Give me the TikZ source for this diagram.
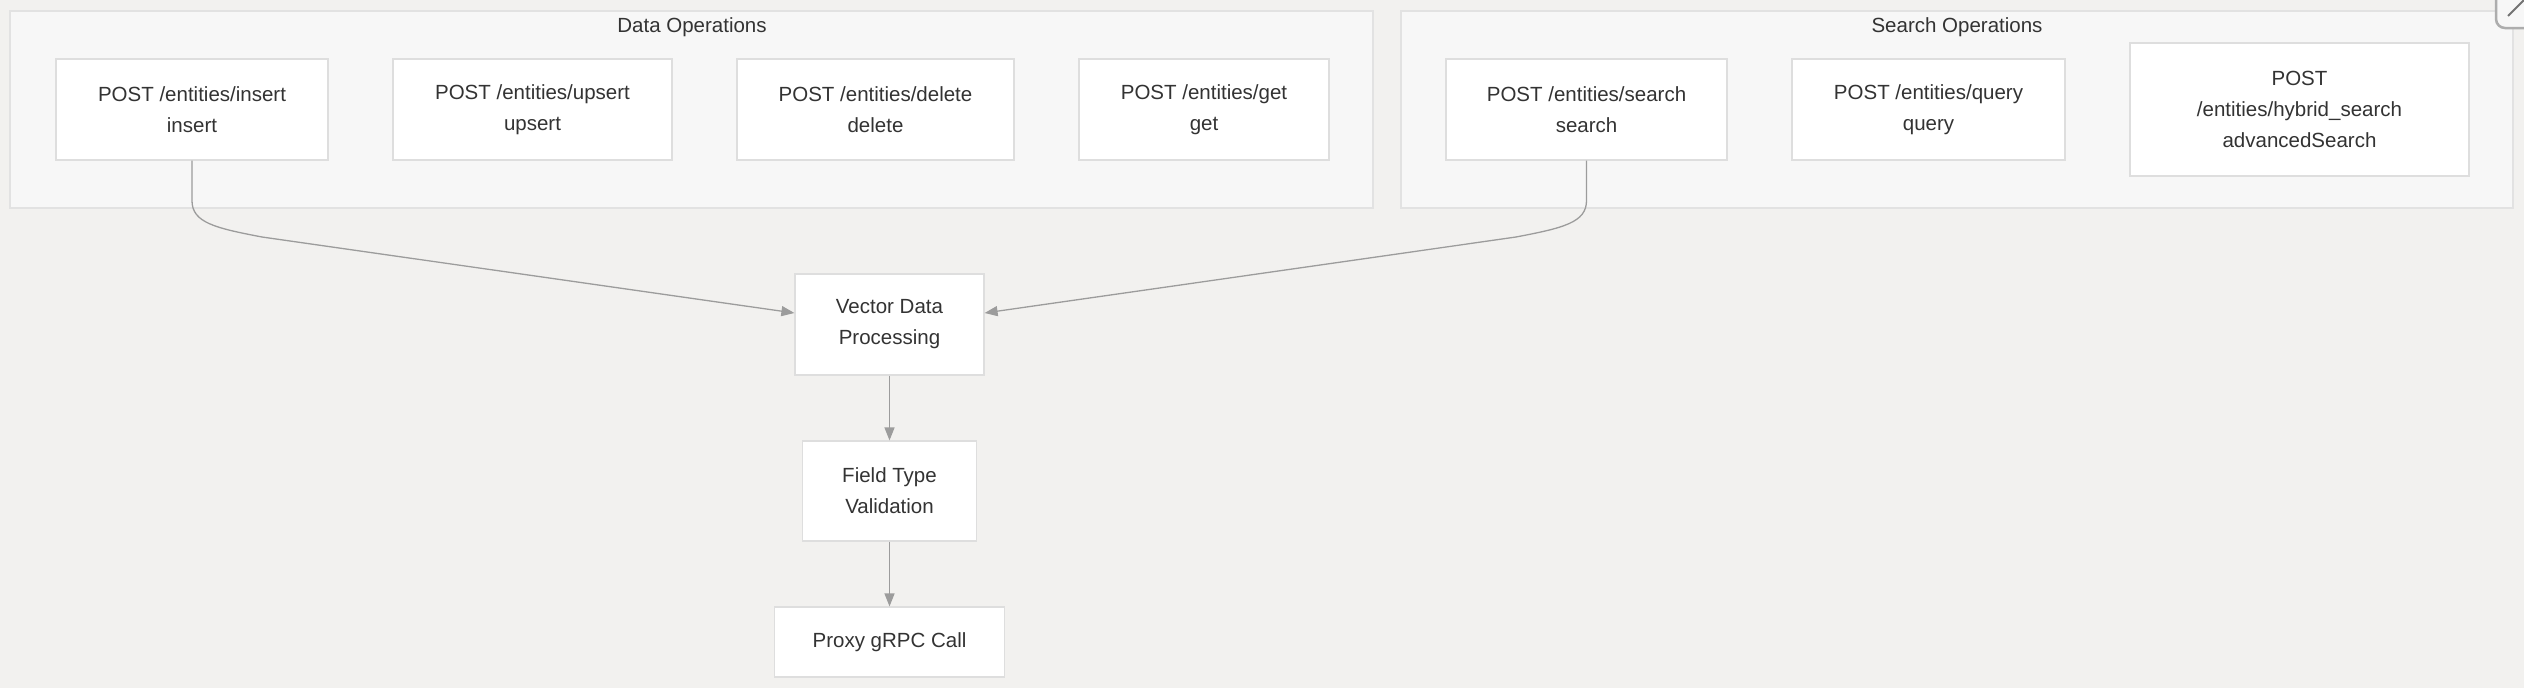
\documentclass[tikz,border=0pt]{standalone}
\usepackage{fontspec}
\setmainfont{Liberation Sans}
\usetikzlibrary{arrows.meta}
\definecolor{bgc}{HTML}{F2F1EF}
\definecolor{clfill}{HTML}{F7F7F7}
\definecolor{clline}{HTML}{E2E2E2}
\definecolor{ndline}{HTML}{DEDEDE}
\definecolor{edgec}{HTML}{9C9C9C}
\definecolor{txt}{HTML}{333333}
\tikzset{
  cluster/.style={fill=clfill,draw=clline,line width=1.2pt},
  boxnode/.style={fill=white,draw=ndline,line width=1.2pt,inner sep=0pt,align=center,
    text=txt,font=\fontsize{20.5}{31}\selectfont},
  cltitle/.style={text=txt,font=\fontsize{20.5}{24}\selectfont,inner sep=0pt},
  flow/.style={draw=edgec,line width=1.3pt,-{Triangle[length=13pt,width=10pt]}},
}
\begin{document}
\begin{tikzpicture}[x=1pt,y=-1pt]
\useasboundingbox[fill=bgc] (0,0) rectangle (2524,688);
% clusters
\draw[cluster] (10,11) rectangle (1373,208);
\node[cltitle] (dataT) at (692,27) {Data Operations};
\draw[cluster] (1401,11) rectangle (2513,208);
\node[cltitle] (searchT) at (1957,27) {Search Operations};
% top nodes
\node[boxnode,minimum width=272pt,minimum height=101pt] (insert) at (192,109.5) {POST /entities/insert\\insert};
\node[boxnode,minimum width=279pt,minimum height=101pt] (upsert) at (532.5,109.5) {POST /entities/upsert\\upsert};
\node[boxnode,minimum width=277pt,minimum height=101pt] (delete) at (875.5,109.5) {POST /entities/delete\\delete};
\node[boxnode,minimum width=250pt,minimum height=101pt] (get) at (1204,109.5) {POST /entities/get\\get};
\node[boxnode,minimum width=281pt,minimum height=101pt] (search) at (1586.5,109.5) {POST /entities/search\\search};
\node[boxnode,minimum width=273pt,minimum height=101pt] (query) at (1928.5,109.5) {POST /entities/query\\query};
\node[boxnode,minimum width=339pt,minimum height=133pt] (hybrid) at (2299.5,109.5) {POST\\/entities/hybrid\_search\\advancedSearch};
% lower nodes
\node[boxnode,minimum width=189pt,minimum height=101pt] (vector) at (889.5,324.5) {Vector Data\\Processing};
\node[boxnode,minimum width=174pt,minimum height=100pt] (field) at (889.5,491) {Field Type\\Validation};
\node[boxnode,minimum width=230pt,minimum height=70pt] (proxy) at (889.5,642) {Proxy gRPC Call};
% edges
\coordinate (vinL) at ([yshift=11.5pt]vector.west);
\coordinate (vinR) at ([yshift=11.5pt]vector.east);
\draw[flow] (insert.south) -- ++(0,40) .. controls ++(0,22) and (215,228) .. (262,237) -- (vinL);
\draw[flow] (search.south) -- ++(0,40) .. controls ++(0,22) and (1563,228) .. (1516,237) -- (vinR);
\draw[flow] (vector.south) -- (field.north);
\draw[flow] (field.south) -- (proxy.north);
% window close button (partly outside)
\draw[draw=black!32,line width=2.5pt,rounded corners=9pt,fill=clfill] (2496,-20) rectangle (2560,28);
\draw[draw=black!55,line width=2pt] (2508,16) -- (2540,-16);
\draw[draw=black!55,line width=2pt] (2508,-16) -- (2540,16);
\end{tikzpicture}
\end{document}
